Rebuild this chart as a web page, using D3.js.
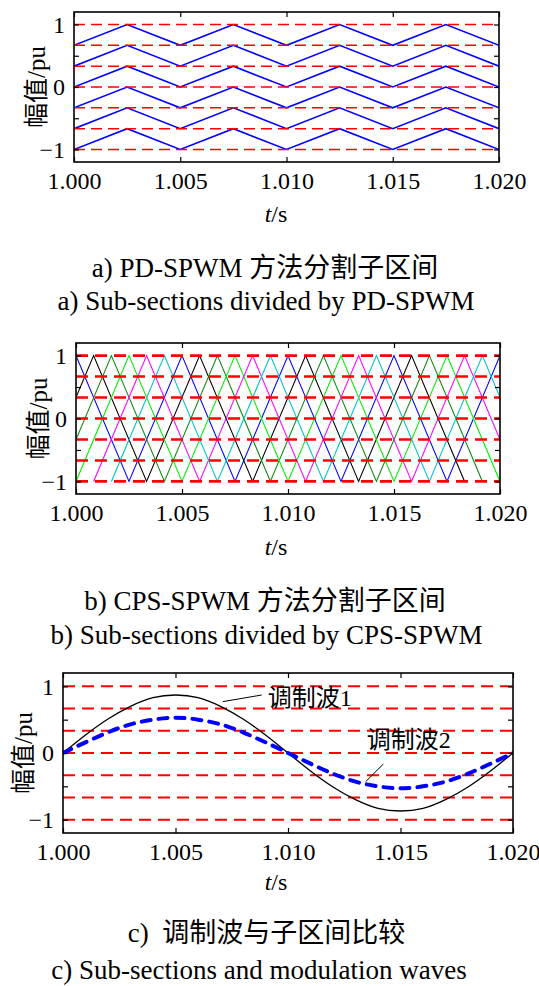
<!DOCTYPE html>
<html>
<head>
<meta charset="utf-8">
<script src="https://cdn.jsdelivr.net/npm/d3@7"></script>
<style>
  html, body { margin: 0; padding: 0; background: #fff; }
  svg { display: block; }
</style>
</head>
<body>
<svg id="fig" width="539" height="986"></svg>
<script>
// ---------- data ----------
const timeTicks = [1.000, 1.005, 1.010, 1.015, 1.020];
const timeTickLabels = ["1.000", "1.005", "1.010", "1.015", "1.020"];
const ampTicks = [-1, -0.5, 0, 0.5, 1];
const ampTickLabels = ["\u22121", "", "0", "", "1"];

// sub-section boundaries (pu)
const levels = [1, 0.667, 0.333, 0, -0.333, -0.667, -1];

// PD-SPWM: six in-phase carriers stacked in bands
const pdVertexTimes = [1.000, 1.0025, 1.005, 1.0075, 1.010, 1.0125, 1.015, 1.0175, 1.020];
const pdBandLow  = [0.667, 0.333, 0, -0.333, -0.667, -1];
const pdBandHigh = [1, 0.667, 0.333, 0, -0.333, -0.667];

// CPS-SPWM: six full-range carriers, instants of their peaks
const cpsPeakTimes = [
  [1.000, 1.005, 1.010, 1.015, 1.020],
  [1.00083, 1.00583, 1.01083, 1.01583],
  [1.00167, 1.00667, 1.01167, 1.01667],
  [1.0025, 1.0075, 1.0125, 1.0175],
  [1.00333, 1.00833, 1.01333, 1.01833],
  [1.00417, 1.00917, 1.01417, 1.01917]
];
const cpsHalfPeriod = 0.0025;
const cpsPeak = 1, cpsTrough = -1;

// modulation waves
const modTimes = [1.000, 1.001, 1.002, 1.003, 1.004, 1.005, 1.006, 1.007, 1.008, 1.009, 1.010,
                  1.011, 1.012, 1.013, 1.014, 1.015, 1.016, 1.017, 1.018, 1.019, 1.020];
const mod1 = [0, 0.27, 0.51, 0.70, 0.83, 0.87, 0.83, 0.70, 0.51, 0.27, 0,
              -0.27, -0.51, -0.70, -0.83, -0.87, -0.83, -0.70, -0.51, -0.27, 0];
const mod2 = [0, 0.16, 0.31, 0.43, 0.50, 0.53, 0.50, 0.43, 0.31, 0.16, 0,
              -0.16, -0.31, -0.43, -0.50, -0.53, -0.50, -0.43, -0.31, -0.16, 0];
const modNames = ["\u8c03\u5236\u6ce21", "\u8c03\u5236\u6ce22"];

const yLabel = "\u5e45\u503c/pu";
const captionsZh = ["a) PD-SPWM \u65b9\u6cd5\u5206\u5272\u5b50\u533a\u95f4",
                    "b) CPS-SPWM \u65b9\u6cd5\u5206\u5272\u5b50\u533a\u95f4",
                    "c)\u00a0 \u8c03\u5236\u6ce2\u4e0e\u5b50\u533a\u95f4\u6bd4\u8f83"];
const captionsEn = ["a) Sub-sections divided by PD-SPWM",
                    "b) Sub-sections divided by CPS-SPWM",
                    "c) Sub-sections and modulation waves"];

// ---------- layout & style ----------
const SERIF = "'Liberation Serif', 'Times New Roman', 'Noto Sans CJK SC', serif";
const cpsColors = ["#0000ff", "#000000", "#118811", "#00ee00", "#ff00ff", "#00c4c4"];
const yDomain = [-1.2, 1.2];
const tDomain = [1.000, 1.020];

const panels = [
  { left: 74, right: 499, top: 12,  bottom: 162, ylabX: 36,  tsY: 222, capY: [277, 310], capX: [265, 266] },
  { left: 76, right: 500, top: 343, bottom: 494, ylabX: 37.5, tsY: 555, capY: [610, 644], capX: [265, 266.5] },
  { left: 63, right: 513, top: 673, bottom: 833, ylabX: 22.5, tsY: 890, capY: [942, 979], capX: [266.5, 259] }
];

const svg = d3.select("#fig");
svg.append("rect").attr("width", 539).attr("height", 986).attr("fill", "#fff");
const defs = svg.append("defs");

function setupPanel(p, idx) {
  const x = d3.scaleLinear().domain(tDomain).range([p.left, p.right]);
  const y = d3.scaleLinear().domain(yDomain).range([p.bottom, p.top]);
  const clipId = "clip" + idx;
  defs.append("clipPath").attr("id", clipId)
    .append("rect").attr("x", p.left).attr("y", p.top)
    .attr("width", p.right - p.left).attr("height", p.bottom - p.top);
  const g = svg.append("g");
  const plot = g.append("g").attr("clip-path", `url(#${clipId})`);
  return { x, y, g, plot };
}

function drawAxes(p, s, idx) {
  const { x, y, g } = s;
  const tick = 5;
  g.append("g").attr("transform", `translate(0,${p.bottom})`)
    .call(d3.axisBottom(x).tickValues(timeTicks).tickSizeInner(-tick).tickSizeOuter(0)
      .tickPadding(10).tickFormat((d, i) => timeTickLabels[i]));
  g.append("g").attr("transform", `translate(0,${p.top})`)
    .call(d3.axisTop(x).tickValues(timeTicks).tickSizeInner(-tick).tickSizeOuter(0).tickFormat(""));
  g.append("g").attr("transform", `translate(${p.left},0)`)
    .call(d3.axisLeft(y).tickValues(ampTicks).tickSizeInner(-tick).tickSizeOuter(0)
      .tickPadding(9).tickFormat((d, i) => ampTickLabels[i]));
  g.append("g").attr("transform", `translate(${p.right},0)`)
    .call(d3.axisRight(y).tickValues(ampTicks).tickSizeInner(-tick).tickSizeOuter(0).tickFormat(""));

  g.selectAll(".domain").remove();
  g.selectAll(".tick line").attr("stroke", "#000").attr("stroke-width", 1.2);
  g.selectAll(".tick text").attr("font-family", SERIF).attr("font-size", 24).attr("fill", "#000");

  g.append("rect").attr("x", p.left).attr("y", p.top)
    .attr("width", p.right - p.left).attr("height", p.bottom - p.top)
    .attr("fill", "none").attr("stroke", "#000").attr("stroke-width", 1.6);

  // y title
  g.append("text")
    .attr("transform", `translate(${p.ylabX},${(p.top + p.bottom) / 2}) rotate(-90)`)
    .attr("text-anchor", "middle").attr("dy", "0.36em")
    .attr("font-family", SERIF).attr("font-size", 25).text(yLabel);

  // x title t/s
  const ts = g.append("text").attr("x", 276).attr("y", p.tsY).attr("text-anchor", "middle")
    .attr("font-family", SERIF).attr("font-size", 24);
  ts.append("tspan").attr("font-style", "italic").text("t");
  ts.append("tspan").text("/s");

  // captions
  g.append("text").attr("x", p.capX[0]).attr("y", p.capY[0]).attr("text-anchor", "middle")
    .attr("font-family", SERIF).attr("font-size", 27).text(captionsZh[idx]);
  g.append("text").attr("x", p.capX[1]).attr("y", p.capY[1]).attr("text-anchor", "middle")
    .attr("font-family", SERIF).attr("font-size", 27).text(captionsEn[idx]);
}

function drawLevels(s, width, dash) {
  s.plot.append("g").selectAll("line").data(levels).join("line")
    .attr("x1", s.x(tDomain[0])).attr("x2", s.x(tDomain[1]))
    .attr("y1", d => s.y(d)).attr("y2", d => s.y(d))
    .attr("stroke", "#ff0000").attr("stroke-width", width)
    .attr("stroke-dasharray", dash);
}

// ---------- panel a: PD-SPWM ----------
{
  const p = panels[0];
  const s = setupPanel(p, 0);
  const line = d3.line().x(d => s.x(d[0])).y(d => s.y(d[1]));
  pdBandLow.forEach((lo, k) => {
    const hi = pdBandHigh[k];
    const pts = pdVertexTimes.map((t, i) => [t, i % 2 === 0 ? lo : hi]);
    s.plot.append("path").attr("d", line(pts))
      .attr("fill", "none").attr("stroke", "#0000ff").attr("stroke-width", 1.6);
  });
  drawLevels(s, 1.4, "11,6");
  drawAxes(p, s, 0);
}

// ---------- panel b: CPS-SPWM ----------
{
  const p = panels[1];
  const s = setupPanel(p, 1);
  const line = d3.line().x(d => s.x(d[0])).y(d => s.y(d[1]));
  cpsPeakTimes.forEach((peaks, k) => {
    const pts = [];
    peaks.forEach(t => { pts.push([t - cpsHalfPeriod, cpsTrough]); pts.push([t, cpsPeak]); });
    pts.push([peaks[peaks.length - 1] + cpsHalfPeriod, cpsTrough]);
    s.plot.append("path").attr("d", line(pts))
      .attr("fill", "none").attr("stroke", cpsColors[k]).attr("stroke-width", 1.1);
  });
  drawLevels(s, 2.6, "12,7");
  drawAxes(p, s, 1);
}

// ---------- panel c: modulation waves ----------
{
  const p = panels[2];
  const s = setupPanel(p, 2);
  drawLevels(s, 2, "12,7");
  const line = d3.line().curve(d3.curveNatural).x(d => s.x(d[0])).y(d => s.y(d[1]));
  s.plot.append("path").attr("d", line(modTimes.map((t, i) => [t, mod1[i]])))
    .attr("fill", "none").attr("stroke", "#000").attr("stroke-width", 1.3);
  s.plot.append("path").attr("d", line(modTimes.map((t, i) => [t, mod2[i]])))
    .attr("fill", "none").attr("stroke", "#0000ff").attr("stroke-width", 4)
    .attr("stroke-dasharray", "9,8").attr("stroke-linecap", "round");

  // labels with leader lines
  const ann = s.g.append("g");
  ann.append("line")
    .attr("x1", s.x(1.0071)).attr("y1", s.y(0.77))
    .attr("x2", s.x(1.00883)).attr("y2", s.y(0.87))
    .attr("stroke", "#000").attr("stroke-width", 1);
  ann.append("text").attr("x", s.x(1.0091)).attr("y", s.y(0.70))
    .attr("font-family", SERIF).attr("font-size", 24).text(modNames[0]);
  ann.append("line")
    .attr("x1", s.x(1.01424)).attr("y1", s.y(-0.165))
    .attr("x2", s.x(1.01345)).attr("y2", s.y(-0.43))
    .attr("stroke", "#000").attr("stroke-width", 1);
  ann.append("text").attr("x", s.x(1.0135)).attr("y", s.y(0.07))
    .attr("font-family", SERIF).attr("font-size", 24).text(modNames[1]);

  drawAxes(p, s, 2);
}
</script>
</body>
</html>
